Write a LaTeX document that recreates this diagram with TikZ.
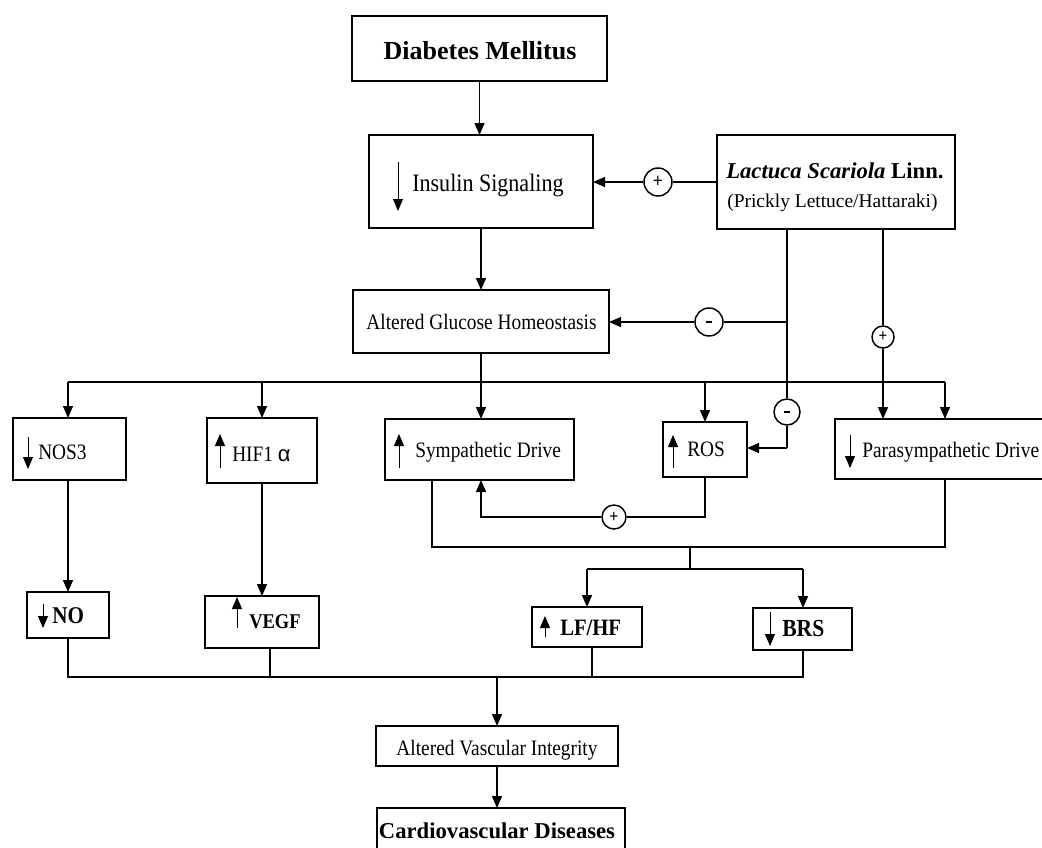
\documentclass[tikz,border=0pt]{standalone}
\usepackage{fontspec}
\setmainfont{Liberation Serif}[FakeStretch=0.88]
\newfontfamily\plainserif{Liberation Serif}
\newfontfamily\greekfont{Liberation Sans}
\usetikzlibrary{arrows.meta}
\newcommand{\mkbox}[6][]{%
  \pgfmathsetmacro{\mybw}{(#5-#3)*0.75}%
  \pgfmathsetmacro{\mybh}{(#6-#4)*0.75}%
  \node[boxst,#1,minimum width=\mybw pt,minimum height=\mybh pt] (#2) at ({(#3+#5)/2},{(#4+#6)/2}) {};}
\newcommand{\minussign}{\rule{5pt}{1.7pt}}
\begin{document}
\begin{tikzpicture}[x=0.75pt,y=-0.75pt,
  boxst/.style={draw, rectangle, line width=1.4pt, inner sep=0pt, outer sep=0pt},
  conn/.style={line width=1pt},
  arr/.style={conn,-{Triangle[length=9pt,width=7.5pt]}},
  glyph/.style={line width=0.7pt,-{Triangle[length=9pt,width=7.5pt]}},
  txt/.style={inner sep=0pt, anchor=base west},
  ctxt/.style={inner sep=0pt, anchor=base},
  sgn/.style={circle, draw, line width=1.1pt, fill=white, inner sep=0pt, font=\bfseries\fontsize{15}{15}\selectfont},
  fs/.style={font=\fontsize{16.5}{18}\selectfont}
]
\path[use as bounding box] (0,0) rectangle (1042,847);
\clip (0,0) rectangle (1042,847);
\fill[white] (0,0) rectangle (1042,847);

% boxes
\mkbox{dm}{352}{16}{607}{81}
\mkbox{ins}{369}{135}{593}{228}
\mkbox{lac}{717}{135}{955}{229}
\mkbox{agh}{353}{290}{609}{353}
\mkbox{nos}{13}{418}{126}{480}
\mkbox{hif}{207}{418}{317}{483}
\mkbox{sym}{385}{419}{574}{480}
\mkbox{ros}{663}{422}{747}{477}
\mkbox{para}{835}{419}{1070}{479}
\mkbox{no}{27}{592}{109}{638}
\mkbox{vegf}{205}{596}{319}{648}
\mkbox{lf}{532}{607}{642}{647}
\mkbox{brs}{753}{608}{852}{650}
\mkbox{avi}{376}{726}{618}{766}
\mkbox{cvd}{377}{808}{625}{880}

% texts
\node[ctxt, font=\plainserif\bfseries\fontsize{19.5}{20}\selectfont] (tdm) at (480,59) {Diabetes Mellitus};
\node[txt, font=\fontsize{18.8}{20}\selectfont] (tins) at (412,191) {Insulin Signaling};
\node[txt, font=\plainserif\fontsize{17}{18}\selectfont] (tlac1) at (726,178) {{\bfseries\itshape Lactuca Scariola} \textbf{Linn.}};
\node[txt, font=\plainserif\fontsize{14.6}{16}\selectfont] (tlac2) at (727,207) {(Prickly Lettuce/Hattaraki)};
\node[ctxt, fs] (tagh) at (481.5,329) {Altered Glucose Homeostasis};
\node[txt, fs] (tnos) at (38,459) {NOS3};
\node[txt, fs] (thif) at (232,461) {HIF1 {\greekfont α}};
\node[txt, fs] (tsym) at (415,457) {Sympathetic Drive};
\node[txt, fs] (tros) at (687,456) {ROS};
\node[txt, fs] (tpara) at (862,457) {Parasympathetic Drive};
\node[txt, font=\bfseries\fontsize{18}{20}\selectfont] (tno) at (52,623) {NO};
\node[txt, font=\bfseries\fontsize{15.75}{18}\selectfont] (tvegf) at (249,628) {VEGF};
\node[txt, font=\bfseries\fontsize{17.6}{20}\selectfont] (tlf) at (560,635) {LF/HF};
\node[txt, font=\bfseries\fontsize{18.4}{20}\selectfont] (tbrs) at (782,636) {BRS};
\node[ctxt, fs] (tavi) at (497,755) {Altered Vascular Integrity};
\node[ctxt, font=\plainserif\bfseries\fontsize{17}{18}\selectfont] (tcvd) at (497,838) {Cardiovascular Diseases};

% up/down glyph arrows
\draw[glyph] (398,162) -- (398,211);
\draw[glyph] (28,437) -- (28,469);
\draw[glyph] (220,468) -- (220,434);
\draw[glyph] (399,468) -- (399,434);
\draw[glyph] (673,468) -- (673,435);
\draw[glyph] (850,435) -- (850,468);
\draw[glyph] (43,604) -- (43,628);
\draw[glyph] (237,628) -- (237,597);
\draw[glyph] (545,637) -- (545,616);
\draw[glyph] (770,612) -- (770,646);

% sign circles
\node[sgn, minimum size=21pt] (p1) at (658,182) {+};
\node[sgn, minimum size=21pt] (m1) at (709,322) {\minussign};
\node[sgn, minimum size=19.5pt] (m2) at (787,412) {\minussign};
\node[sgn, minimum size=16.5pt, font=\bfseries\fontsize{13}{13}\selectfont] (p2) at (883,337) {+};
\node[sgn, minimum size=18pt, font=\bfseries\fontsize{13.5}{13.5}\selectfont] (p3) at (614,517) {+};

% coordinates
\coordinate (lA) at (787,229);
\coordinate (jA) at (787,322);
\coordinate (kA) at (787,448);
\coordinate (lB) at (883,229);
\coordinate (bL) at (68,382);
\coordinate (bR) at (945,382);
\coordinate (sB) at (432,547);
\coordinate (pB) at (945,547);
\coordinate (rB) at (705,517);
\coordinate (sF) at (481,517);
\coordinate (jC) at (690,547);
\coordinate (jD) at (690,569);
\coordinate (lfT) at (587,569);
\coordinate (brT) at (803,569);
\coordinate (jE) at (497,677);
\coordinate (vB) at (270,648);
\coordinate (fB) at (592,647);

% connectors
\draw[arr] (dm.south) -- (dm.south |- ins.north);
\draw[arr] (ins.south) -- (ins.south |- agh.north);
\draw[conn] (lac.west) -- (p1);
\draw[arr] (p1) -- (ins.east |- p1);
\draw[conn] (lA) -- (m2);
\draw[conn] (m2) -- (kA);
\draw[arr] (kA) -- (kA -| ros.east);
\draw[conn] (jA) -- (m1);
\draw[arr] (m1) -- (agh.east |- m1);
\draw[conn] (lB) -- (p2);
\draw[arr] (p2) -- (p2 |- para.north);
\draw[conn] (bL) -- (bR);
\draw[arr] (bL) -- (bL |- nos.north);
\draw[arr] (hif.north |- bL) -- (hif.north);
\draw[arr] (agh.south) -- (agh.south |- sym.north);
\draw[arr] (ros.north |- bL) -- (ros.north);
\draw[arr] (bR) -- (bR |- para.north);
\draw[arr] (bL |- nos.south) -- (bL |- no.north);
\draw[arr] (hif.south) -- (hif.south |- vegf.north);
\draw[conn] (sB |- sym.south) -- (sB) -- (pB) -- (pB |- para.south);
\draw[conn] (ros.south) -- (rB) -- (p3);
\draw[arr] (p3) -- (sF) -- (sF |- sym.south);
\draw[conn] (jC) -- (jD);
\draw[conn] (lfT) -- (brT);
\draw[arr] (lfT) -- (lfT |- lf.north);
\draw[arr] (brT) -- (brT |- brs.north);
\draw[conn] (no.south) -- (no.south |- jE) -- (brT |- jE) -- (brT |- brs.south);
\draw[conn] (vB) -- (vB |- jE);
\draw[conn] (fB) -- (fB |- jE);
\draw[arr] (jE) -- (jE |- avi.north);
\draw[arr] (avi.south) -- (avi.south |- cvd.north);
\end{tikzpicture}
\end{document}
